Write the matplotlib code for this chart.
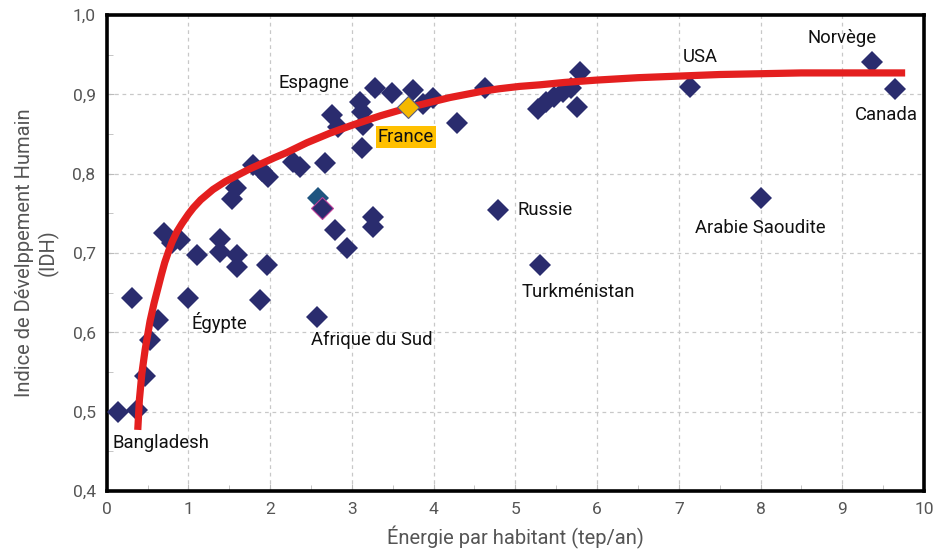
import matplotlib
matplotlib.use("Agg")
import matplotlib.pyplot as plt
from matplotlib.ticker import MultipleLocator, FuncFormatter

plt.rcParams['font.family'] = ['Roboto', 'DejaVu Sans']

# pays (energie tep/an, IDH)
energie = [0.14, 0.37, 0.47, 0.53, 0.63, 0.31, 1.00, 0.70, 0.80, 0.90,
           1.10, 1.39, 1.39, 1.60, 1.60, 1.96, 1.88, 1.53, 1.58, 1.79,
           1.90, 1.97, 2.28, 2.37, 2.67, 2.79, 2.94, 2.57, 3.26, 3.26,
           2.76, 2.83, 3.10, 3.12, 3.14, 3.12, 3.28, 3.49, 3.75, 3.87,
           3.99, 4.29, 4.63, 5.28, 5.38, 5.47, 5.58, 5.68, 5.79, 5.76,
           4.79, 5.30, 7.14, 9.37, 9.65, 8.00]
idh = [0.499, 0.502, 0.545, 0.590, 0.615, 0.643, 0.643, 0.725, 0.712, 0.716,
       0.697, 0.718, 0.701, 0.697, 0.682, 0.685, 0.641, 0.768, 0.782, 0.811,
       0.803, 0.796, 0.815, 0.809, 0.813, 0.729, 0.706, 0.619, 0.745, 0.733,
       0.874, 0.859, 0.890, 0.878, 0.861, 0.832, 0.908, 0.902, 0.905, 0.888,
       0.896, 0.864, 0.908, 0.882, 0.890, 0.897, 0.903, 0.908, 0.928, 0.884,
       0.754, 0.685, 0.909, 0.941, 0.907, 0.769]

# points particuliers
france = (3.69, 0.884)
bleu_clair = (2.59, 0.769)
bord_rose = (2.63, 0.757)

# tendance
courbe_x = [0.38, 0.40, 0.43, 0.47, 0.53, 0.58, 0.62, 0.67, 0.71, 0.76,
            0.80, 0.86, 0.92, 1.00, 1.06, 1.15, 1.30, 1.45, 1.60, 1.75,
            1.88, 2.05, 2.21, 2.45, 2.73, 3.00, 3.35, 3.65, 3.96, 4.20,
            4.40, 4.60, 4.80, 5.05, 5.30, 5.60, 6.00, 6.50, 7.00, 7.50,
            8.00, 8.50, 9.00, 9.40, 9.77]
courbe_y = [0.477, 0.515, 0.548, 0.578, 0.614, 0.637, 0.653, 0.673, 0.688, 0.703,
            0.714, 0.727, 0.737, 0.749, 0.757, 0.767, 0.780, 0.790, 0.798, 0.806,
            0.812, 0.820, 0.827, 0.839, 0.851, 0.861, 0.873, 0.882, 0.890, 0.896,
            0.900, 0.904, 0.907, 0.910, 0.912, 0.915, 0.918, 0.921, 0.923, 0.925,
            0.926, 0.927, 0.927, 0.927, 0.927]

etiquettes = ["Bangladesh", "Égypte", "Afrique du Sud", "Espagne", "Russie",
              "Turkménistan", "USA", "Norvège", "Canada", "Arabie Saoudite"]
etiq_x = [0.66, 1.38, 3.24, 2.53, 5.37, 5.77, 7.26, 9.00, 9.54, 8.00]
etiq_y = [0.461, 0.613, 0.590, 0.914, 0.754, 0.651, 0.947, 0.971, 0.874, 0.731]

fig = plt.figure(figsize=(9.46, 5.5), dpi=100)
ax = fig.add_axes([0.1128, 0.1073, 0.8639, 0.8654])

navy = '#2a2c6e'
ax.plot(energie, idh, linestyle='none', marker='D', markersize=11.5,
        color=navy, markeredgewidth=0, zorder=3)
ax.plot(*bleu_clair, marker='D', markersize=11.5, color='#1f5580', mew=0, zorder=3)
ax.plot(*bord_rose, marker='D', markersize=11.5, color=navy, mec='#c0409a', mew=0.8, zorder=3)
ax.plot(*france, marker='D', markersize=11.5, color='#f5b800', mec='#555a80', mew=0.8, zorder=5)

ax.plot(courbe_x, courbe_y, color='#e41f1f', linewidth=5.2,
        solid_joinstyle='round', solid_capstyle='butt', zorder=4)

for t, x, y in zip(etiquettes, etiq_x, etiq_y):
    ax.text(x, y, t, fontsize=13.3, ha='center', va='center', color='#111111', zorder=6)
ax.text(3.66, 0.846, "France", fontsize=13.3, ha='center', va='center', color='#111111',
        bbox=dict(boxstyle='square,pad=0.1', fc='#ffc000', ec='none'), zorder=6)

ax.set_xlim(0, 10)
ax.set_ylim(0.4, 1.0)
ax.xaxis.set_major_locator(MultipleLocator(1))
ax.xaxis.set_minor_locator(MultipleLocator(0.5))
ax.yaxis.set_major_locator(MultipleLocator(0.1))
ax.yaxis.set_minor_locator(MultipleLocator(0.05))
ax.yaxis.set_major_formatter(FuncFormatter(lambda v, p: f"{v:.1f}".replace('.', ',')))

ax.grid(True, which='major', linestyle=(0, (3, 3)), color='#c8c8c8', linewidth=0.9)
ax.tick_params(which='both', direction='in', color='#bbbbbb', labelcolor='#555555',
               labelsize=12.5, pad=8)
ax.tick_params(which='major', length=5)
ax.tick_params(which='minor', length=4)
for s in ax.spines.values():
    s.set_linewidth(2.6)
    s.set_color('black')

ax.set_xlabel("Énergie par habitant (tep/an)", fontsize=14.5, color='#555555', labelpad=6)
ax.set_ylabel("Indice de Dévelppement Humain\n(IDH)", fontsize=14.5, color='#555555', labelpad=10)

fig.savefig("out.png", dpi=100)
